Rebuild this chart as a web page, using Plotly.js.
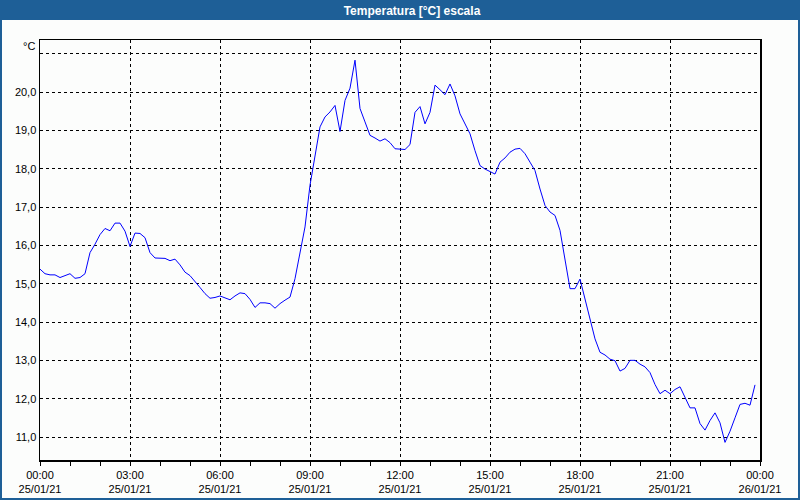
<!DOCTYPE html>
<html>
<head>
<meta charset="utf-8">
<script src="https://cdn.plot.ly/plotly-3.0.1.min.js"></script>
<style>
html, body { margin: 0; padding: 0; background: #fcfdfc; }
#chart { width: 800px; height: 500px; }
</style>
</head>
<body>
<div id="chart"></div>
<script>
// Sampling: every 10 minutes starting 25/01/21 00:00
const startTime = '2021-01-25T00:00:00';
const sampleMinutes = 10;

// Temperature readings [°C]
const temperature = [
  15.38, 15.26, 15.23, 15.23, 15.16, 15.22, 15.26, 15.14, 15.16, 15.26,
  15.81, 16.03, 16.28, 16.44, 16.38, 16.58, 16.58, 16.37, 15.97, 16.32,
  16.31, 16.20, 15.81, 15.67, 15.66, 15.66, 15.60, 15.64, 15.49, 15.30,
  15.21, 15.04, 14.90, 14.74, 14.62, 14.64, 14.68, 14.63,
  14.58, 14.68, 14.76, 14.74, 14.59, 14.38, 14.50, 14.50, 14.48, 14.36,
  14.48, 14.57, 14.65, 15.13, 15.83, 16.48, 17.57, 18.35, 19.09, 19.35,
  19.48, 19.65, 18.97, 19.78, 20.10, 20.83, 19.57, 19.22, 18.87, 18.80,
  18.72, 18.78, 18.68, 18.52, 18.51, 18.50,
  18.63, 19.47, 19.62, 19.17, 19.47, 20.18, 20.06, 19.93, 20.21, 19.90,
  19.43, 19.17, 18.91, 18.47, 18.08, 17.99, 17.93, 17.86, 18.17, 18.28,
  18.43, 18.51, 18.53, 18.39, 18.17, 17.95, 17.47, 17.04, 16.87, 16.78,
  16.39, 15.61, 14.87, 14.87,
  15.12, 14.60, 14.04, 13.56, 13.21, 13.14, 13.03, 12.99, 12.72, 12.79,
  13.00, 13.00, 12.90, 12.83, 12.68, 12.37, 12.13, 12.22, 12.13, 12.24,
  12.31, 12.02, 11.76, 11.76, 11.35, 11.18, 11.43, 11.63, 11.37, 10.86,
  11.15, 11.50, 11.85, 11.88, 11.83, 12.36
];

const xTickValues = [
  '2021-01-25 00:00', '2021-01-25 03:00', '2021-01-25 06:00',
  '2021-01-25 09:00', '2021-01-25 12:00', '2021-01-25 15:00',
  '2021-01-25 18:00', '2021-01-25 21:00', '2021-01-26 00:00'
];
const xTickLabels = [
  '00:00<br>25/01/21', '03:00<br>25/01/21', '06:00<br>25/01/21',
  '09:00<br>25/01/21', '12:00<br>25/01/21', '15:00<br>25/01/21',
  '18:00<br>25/01/21', '21:00<br>25/01/21', '00:00<br>26/01/21'
];
const yTickValues = [11, 12, 13, 14, 15, 16, 17, 18, 19, 20, 21];
const yTickLabels = ['11,0', '12,0', '13,0', '14,0', '15,0', '16,0', '17,0', '18,0', '19,0', '20,0', ''];

const chartTitle = 'Temperatura [°C] escala';
const unitLabel = '°C';

function pad(n) { return (n < 10 ? '0' : '') + n; }
const t0 = new Date(startTime + 'Z').getTime();
const times = temperature.map((_, i) => {
  const d = new Date(t0 + i * sampleMinutes * 60000);
  return d.getUTCFullYear() + '-' + pad(d.getUTCMonth() + 1) + '-' + pad(d.getUTCDate()) +
    ' ' + pad(d.getUTCHours()) + ':' + pad(d.getUTCMinutes());
});

const L = 40, R = 40, T = 40, B = 40, W = 800, H = 500;
const pw = W - L - R, ph = H - T - B;
const px = x => (x - L) / pw;
const py = y => (H - B - y) / ph;

const barColor = '#1e5f97';
const font = 'Liberation Sans, Arial, sans-serif';

const trace = {
  type: 'scatter', mode: 'lines',
  x: times, y: temperature,
  line: { color: '#0000ff', width: 1 },
  hoverinfo: 'x+y'
};

const layout = {
  width: W, height: H,
  margin: { l: L, r: R, t: T, b: B, pad: 0 },
  paper_bgcolor: '#fcfdfc',
  plot_bgcolor: '#fcfdfc',
  showlegend: false,
  font: { family: font, size: 11, color: '#000' },
  title: {
    text: '<b>' + chartTitle + '</b>',
    font: { family: font, size: 12, color: '#ffffff' },
    xref: 'container', yref: 'container',
    x: 0.515, xanchor: 'center',
    y: 1 - 10.5 / H, yanchor: 'middle'
  },
  xaxis: {
    type: 'date',
    range: ['2021-01-25 00:00', '2021-01-26 00:00'],
    tickmode: 'array', tickvals: xTickValues, ticktext: xTickLabels,
    ticks: 'outside', ticklen: 4, tickcolor: '#000', tickwidth: 1,
    showline: true, linecolor: '#000', linewidth: 1.5, mirror: true,
    showgrid: true, gridcolor: '#000', gridwidth: 1, griddash: '3px,3px',
    zeroline: false,
    tickfont: { family: font, size: 11, color: '#000' },
    minor: { dtick: 3600000, ticks: 'outside', ticklen: 4, tickcolor: '#000', tickwidth: 1, showgrid: false },
    fixedrange: true
  },
  yaxis: {
    range: [10.40, 21.357],
    tickmode: 'array', tickvals: yTickValues, ticktext: yTickLabels,
    ticks: '', showline: true, linecolor: '#000', linewidth: 1.5, mirror: true,
    showgrid: true, gridcolor: '#000', gridwidth: 1, griddash: '3px,3px',
    zeroline: false,
    tickfont: { family: font, size: 11, color: '#000' },
    fixedrange: true
  },
  shapes: [
    { type: 'rect', xref: 'paper', yref: 'paper', layer: 'below',
      x0: px(0), x1: px(W), y0: py(20), y1: py(0),
      fillcolor: barColor, line: { width: 0 } },
    { type: 'rect', xref: 'paper', yref: 'paper', layer: 'above',
      x0: px(1), x1: px(W - 1), y0: py(H - 1), y1: py(1),
      fillcolor: 'rgba(0,0,0,0)', line: { color: barColor, width: 2 } }
  ],
  annotations: [
    { text: unitLabel, xref: 'paper', yref: 'paper',
      x: px(37), y: py(46), xanchor: 'right', yanchor: 'middle',
      showarrow: false, font: { family: font, size: 11, color: '#000' } }
  ]
};

Plotly.newPlot('chart', [trace], layout, { displayModeBar: false, staticPlot: true });
</script>
</body>
</html>
